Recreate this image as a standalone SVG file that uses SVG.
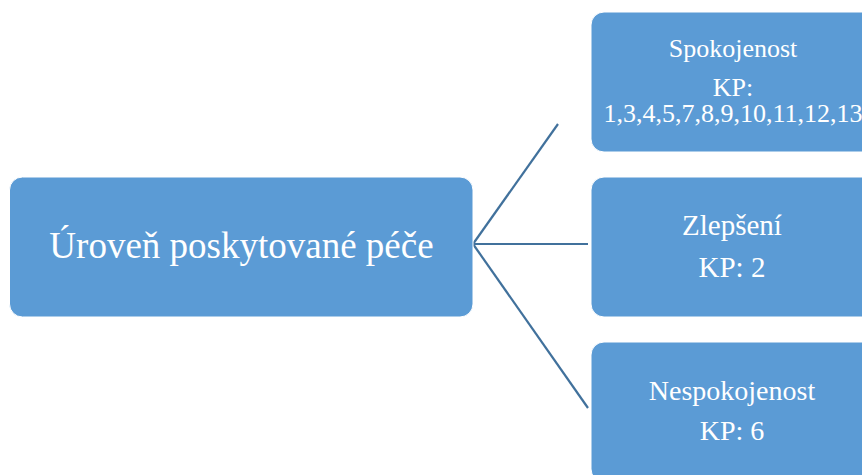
<svg xmlns="http://www.w3.org/2000/svg" width="862" height="475" viewBox="0 0 862 475">
<style>
.box{fill:#5B9BD5;stroke:#FFFFFF;stroke-width:1}
.t{font-family:"Liberation Serif","Times New Roman",serif;fill:#FFFFFF;text-anchor:middle}
.c{stroke:#41719C;stroke-width:2.2;fill:none}
</style>
<rect width="862" height="475" fill="#FFFFFF"/>
<g id="connectors">
<line class="c" x1="473" y1="244" x2="558" y2="124"/>
<line class="c" x1="473" y1="244" x2="588" y2="244"/>
<line class="c" x1="473" y1="244" x2="588" y2="408"/>
</g>
<g id="root">
<rect class="box" x="9.5" y="177" width="463.5" height="140" rx="13"/>
<text class="t" x="241.5" y="258" font-size="37">Úroveň poskytované péče</text>
</g>
<g id="spokojenost">
<rect class="box" x="591" y="12" width="284" height="140" rx="13"/>
<text class="t" x="733" y="57" font-size="26">Spokojenost</text>
<text class="t" x="733" y="96" font-size="26">KP:</text>
<text class="t" x="733" y="122" font-size="26">1,3,4,5,7,8,9,10,11,12,13</text>
</g>
<g id="zlepseni">
<rect class="box" x="591" y="177" width="284" height="140" rx="13"/>
<text class="t" x="732" y="235" font-size="29">Zlepšení</text>
<text class="t" x="732" y="277" font-size="29">KP: 2</text>
</g>
<g id="nespokojenost">
<rect class="box" x="591" y="342" width="284" height="140" rx="13"/>
<text class="t" x="732" y="400" font-size="28">Nespokojenost</text>
<text class="t" x="732" y="440" font-size="28">KP: 6</text>
</g>
</svg>
